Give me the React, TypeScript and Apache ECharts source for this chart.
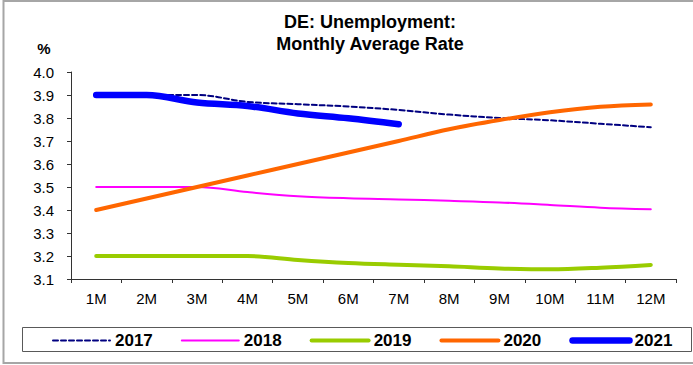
import React, { useEffect, useRef } from "react";
import * as echarts from "echarts";

const months = ["1M", "2M", "3M", "4M", "5M", "6M", "7M", "8M", "9M", "10M", "11M", "12M"];
const years = ["2017", "2018", "2019", "2020", "2021"];
const s2017 = [3.9, 3.9, 3.9, 3.87, 3.86, 3.85, 3.835, 3.815, 3.8, 3.79, 3.775, 3.76];
const s2018 = [3.5, 3.5, 3.5, 3.478, 3.46, 3.451, 3.446, 3.44, 3.433, 3.422, 3.41, 3.403];
const s2019 = [3.2, 3.2, 3.2, 3.2, 3.183, 3.17, 3.162, 3.155, 3.146, 3.142, 3.149, 3.161];
const s2020 = [3.4, 3.45, 3.5, 3.55, 3.6, 3.65, 3.7, 3.751, 3.791, 3.825, 3.849, 3.859];
const s2021 = [3.9, 3.9, 3.867, 3.852, 3.82, 3.799, 3.773];
const titleText = "DE: Unemployment:\nMonthly Average Rate";
const unitText = "%";

const FONT = "'Liberation Sans', Arial, sans-serif";

export default function App() {
  const ref = useRef<HTMLDivElement>(null);
  useEffect(() => {
    if (!ref.current) return;
    const chart = echarts.init(ref.current, null, { renderer: "svg" });
    const values = [s2017, s2018, s2019, s2020, s2021];
    const styles = [
      { color: "#000080", width: 2, type: [5, 3] as any },
      { color: "#ff00ff", width: 2, type: "solid" },
      { color: "#99cc00", width: 4, type: "solid" },
      { color: "#ff6600", width: 4, type: "solid" },
      { color: "#0000ff", width: 6.5, type: "solid" },
    ];
    chart.setOption({
      animation: false,
      backgroundColor: "#ffffff",
      textStyle: { fontFamily: FONT },
      grid: { left: 71, right: 17, top: 72, bottom: 86, containLabel: false },
      xAxis: {
        type: "category",
        data: months,
        boundaryGap: true,
        axisLine: { show: true, lineStyle: { color: "#333333", width: 1 } },
        axisTick: { show: true, length: 4, lineStyle: { color: "#333333" } },
        axisLabel: { color: "#000000", fontSize: 15, margin: 12, fontFamily: FONT },
        splitLine: { show: false },
      },
      yAxis: {
        type: "value",
        min: 3.1,
        max: 4.0,
        interval: 0.1,
        axisLine: { show: true, lineStyle: { color: "#333333", width: 1 } },
        axisTick: { show: true, length: 4, lineStyle: { color: "#333333" } },
        axisLabel: {
          color: "#000000",
          fontSize: 15,
          margin: 17,
          fontFamily: FONT,
          formatter: (v: number) => v.toFixed(1),
        },
        splitLine: { show: false },
      },
      legend: {
        left: 52,
        top: 332,
        padding: 0,
        itemWidth: 57,
        itemHeight: 14,
        itemGap: 28,
        itemStyle: { opacity: 0, borderWidth: 0 },
        lineStyle: { width: "inherit", cap: "round" },
        textStyle: { fontSize: 17, fontWeight: "bold", color: "#000000", fontFamily: FONT, padding: [0, 0, 0, 0] },
        data: years,
      },
      graphic: [
        {
          type: "rect",
          silent: true,
          shape: { x: 3.5, y: 1, width: 700, height: 362 },
          style: { fill: "none", stroke: "#a6a6a6", lineWidth: 2 },
        },
        {
          type: "rect",
          silent: true,
          shape: { x: 22.5, y: 327.5, width: 669, height: 24 },
          style: { fill: "none", stroke: "#595959", lineWidth: 1 },
        },
        {
          type: "text",
          x: 370,
          y: 33,
          style: {
            text: titleText,
            font: `bold 18px ${FONT}`,
            fill: "#000000",
            textAlign: "center",
            textVerticalAlign: "middle",
            lineHeight: 22,
          },
        },
        {
          type: "text",
          x: 44,
          y: 48,
          style: {
            text: unitText,
            font: `bold 15px ${FONT}`,
            fill: "#000000",
            textAlign: "center",
            textVerticalAlign: "middle",
          },
        },
      ],
      series: years.map((y, i) => ({
        name: y,
        type: "line",
        data: values[i],
        smooth: 0.35,
        symbol: "none",
        showSymbol: false,
        color: styles[i].color,
        lineStyle: { color: styles[i].color, width: styles[i].width, type: styles[i].type, cap: "round", join: "round" },
        itemStyle: { color: styles[i].color },
        z: 2 + i,
      })),
    });
    return () => chart.dispose();
  }, []);
  return (
    <div
      ref={ref}
      style={{ position: "fixed", left: 0, top: 0, width: 693, height: 365, background: "#fff" }}
    />
  );
}
